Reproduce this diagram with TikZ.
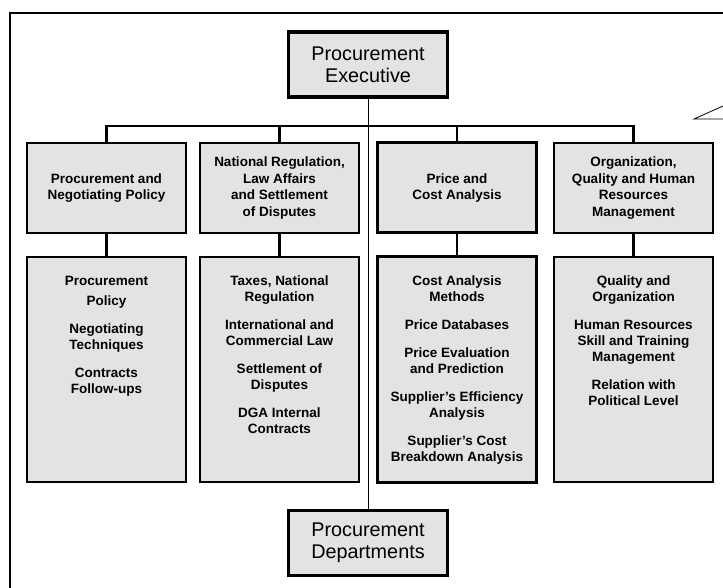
\documentclass[tikz,border=0pt]{standalone}
\usepackage{fontspec}
\setmainfont{Liberation Sans}
\usetikzlibrary{positioning}
\definecolor{boxgray}{gray}{0.89}
\tikzset{
  headbox/.style={draw,fill=boxgray,line width=3.5pt,minimum width=159pt,
    minimum height=65pt,inner sep=0pt,align=center,
    font=\fontsize{19.8}{22}\selectfont},
  areabox/.style={draw,fill=boxgray,line width=2pt,minimum width=159pt,
    minimum height=90pt,inner sep=0pt,align=center,
    font=\bfseries\fontsize{13.5}{16.5}\selectfont},
  taskbox/.style={draw,fill=boxgray,line width=2pt,minimum width=159pt,
    minimum height=225pt,inner sep=0pt},
  tasktext/.style={anchor=north,inner sep=0pt,align=center,
    font=\bfseries\fontsize{13.5}{15.7}\selectfont},
  bus/.style={line width=2.5pt},
}
\begin{document}
\begin{tikzpicture}[x=1pt,y=-1pt]
  \useasboundingbox (0,0) rectangle (723,588);
  \clip (0,0) rectangle (723,588);
  \draw[line width=2.5pt] (10,600) -- (10,13) -- (740,13);
  \coordinate (tip) at (694,119);
  \draw[line width=.8pt] (740,98.4) -- (tip) -- (740,119);

  \node[headbox] (exec) at (368,64.5) {Procurement\\Executive};
  \node[headbox] (dept) at (368,543) {Procurement\\Departments};
  \draw[line width=1pt] (exec) -- (dept);

  \node[areabox] (a1) at (106.5,188) {Procurement and\\Negotiating Policy};
  \node[areabox] (a2) at (279.5,188)
    {National Regulation,\\Law Affairs\\and Settlement\\of Disputes};
  \node[areabox,line width=3pt] (a3) at (457,188) {Price and\\Cost Analysis};
  \node[areabox] (a4) at (633.5,188)
    {Organization,\\Quality and Human\\Resources\\Management};

  \node[taskbox] (b1) at (106.5,369.5) {};
  \node[taskbox] (b2) at (279.5,369.5) {};
  \node[taskbox,line width=3pt] (b3) at (457,369.5) {};
  \node[taskbox] (b4) at (633.5,369.5) {};

  \node[tasktext] (t1) at ([yshift=-20pt]b1.north)
    {Procurement\\[4.3pt]Policy\\[12.6pt]Negotiating\\Techniques\\[12.6pt]Contracts\\Follow-ups};
  \node[tasktext] (t2) at ([yshift=-20pt]b2.north)
    {Taxes, National\\Regulation\\[12.6pt]International and\\Commercial Law\\[12.6pt]Settlement of\\Disputes\\[12.6pt]DGA Internal\\Contracts};
  \node[tasktext] (t3) at ([yshift=-20pt]b3.north)
    {Cost Analysis\\Methods\\[12.6pt]Price Databases\\[12.6pt]Price Evaluation\\and Prediction\\[12.6pt]Supplier's Efficiency\\Analysis\\[12.6pt]Supplier's Cost\\Breakdown Analysis};
  \node[tasktext] (t4) at ([yshift=-20pt]b4.north)
    {Quality and\\Organization\\[12.6pt]Human Resources\\Skill and Training\\Management\\[12.6pt]Relation with\\Political Level};

  \coordinate (bus) at (368,126);
  \draw[bus] (a1.north) |- (bus) -| (a4.north);
  \draw[bus] (a2.north) -- (a2.north |- bus);
  \draw[bus] (a3.north) -- (a3.north |- bus);
  \foreach \i in {1,...,4}
    \draw[bus] (a\i) -- (b\i);
\end{tikzpicture}
\end{document}
